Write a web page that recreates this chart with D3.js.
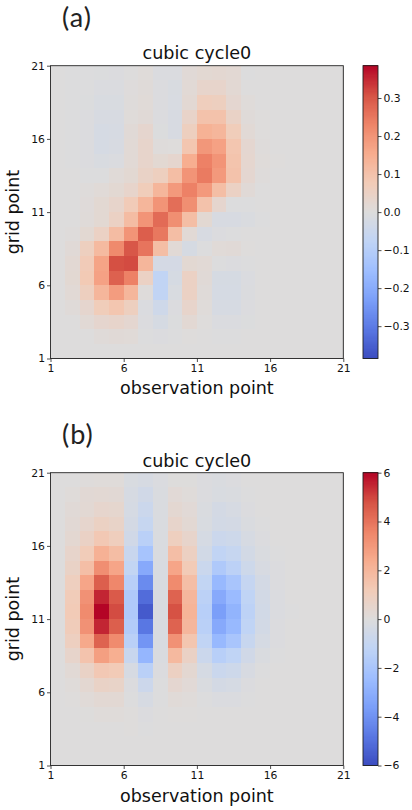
<!DOCTYPE html>
<html>
<head>
<meta charset="utf-8">
<script src="https://cdn.jsdelivr.net/npm/d3@7"></script>
<style>
html,body{margin:0;padding:0;background:#fff}
svg{display:block}
text{font-family:"DejaVu Sans",sans-serif;fill:#111}
</style>
</head>
<body>
<svg id="c" width="412" height="810"></svg>
<script>
const coolwarmStops = ["#3b4cc0","#5977e3","#7b9ff9","#9ebeff","#c0d4f5","#dddcdc","#f2cbb7","#f7ac8e","#ee8468","#d65244","#b40426"];
const axisTicks = [1,6,11,16,21];
const titleText = "cubic cycle0";
const xLabelText = "observation point";
const yLabelText = "grid point";
const panelATag = "(a)";
const panelBTag = "(b)";
const limitA = 0.385;
const limitB = 6;
const barTicksA = [-0.3,-0.2,-0.1,0,0.1,0.2,0.3];
const barTicksB = [-6,-4,-2,0,2,4,6];

// rows listed top to bottom (grid point 20-21 down to 1-2), columns left to right
const valuesA = [
[0,-.002,-.003,-.004,-.005,.001,.006,-.008,-.008,.012,.02,.022,.018,-.002,0,0,0,0,0,0],
[0,-.002,-.003,-.008,-.008,.003,.008,-.006,-.012,.015,.035,.035,.018,-.001,0,0,0,0,0,0],
[0,-.002,-.004,-.012,-.012,.004,.01,-.006,-.014,.018,.065,.06,.025,.006,0,0,0,0,0,0],
[0,-.002,-.005,-.015,-.015,.006,.012,-.006,-.016,.04,.1,.1,.045,.008,.002,0,0,0,0,0],
[0,-.002,-.006,-.022,-.018,.012,.03,-.004,-.015,.06,.14,.13,.07,.015,.002,0,0,0,0,0],
[0,-.002,-.006,-.022,-.016,.015,.035,.004,.002,.09,.195,.175,.09,.025,.004,0,0,0,0,0],
[0,-.002,-.005,-.012,-.008,.015,.035,.02,.03,.15,.235,.2,.095,.028,.006,.002,0,0,0,0],
[0,-.001,-.002,-.003,.01,.02,.045,.06,.11,.2,.245,.19,.1,.025,.004,0,0,0,0,0],
[0,0,.004,.01,.02,.035,.07,.13,.19,.235,.19,.11,.05,.012,0,0,0,0,0,0],
[0,-.001,.007,.02,.035,.075,.13,.2,.265,.21,.1,.03,-.003,-.002,-.001,-.001,-.001,-.001,-.001,-.001],
[0,-.001,.008,.02,.05,.115,.2,.27,.21,.11,.02,-.015,-.015,-.01,-.002,0,0,0,0,0],
[0,.005,.02,.05,.115,.2,.29,.25,.11,.015,-.015,-.005,-.002,.001,0,0,0,0,0,0],
[0,.012,.06,.12,.22,.3,.255,.11,.015,-.02,-.003,.01,.012,.002,0,0,0,0,0,0],
[0,.018,.075,.17,.31,.315,.13,-.025,-.025,.02,.015,-.003,-.005,-.003,0,0,0,0,0,0],
[0,.02,.08,.175,.285,.235,.05,-.075,-.02,.05,.012,-.02,-.02,-.008,-.001,0,0,0,0,0],
[0,.015,.06,.13,.185,.13,.005,-.075,-.012,.05,.008,-.022,-.022,-.007,-.001,0,0,0,0,0],
[0,.008,.03,.07,.09,.06,-.008,-.04,-.006,.035,.006,-.018,-.018,-.005,0,0,0,0,0,0],
[0,.001,.015,.03,.035,.025,-.006,-.02,-.004,.018,.002,-.008,-.008,-.004,0,0,0,0,0,0],
[0,0,0,.008,.012,.01,-.002,-.005,-.002,.002,0,-.002,-.002,-.001,0,0,0,0,0,0],
[0,0,0,0,0,0,0,0,0,0,0,0,0,0,0,0,0,0,0,0]
];
const valuesB = [
[0,-.02,.05,.1,.1,-.2,-.3,-.12,.02,.02,-.1,-.15,-.1,-.02,0,0,0,0,0,0],
[0,.1,.25,.3,.25,-.3,-.55,-.15,.2,.1,-.1,-.2,-.15,-.05,0,0,0,0,0,0],
[0,.18,.3,.5,.45,-.35,-.75,-.15,.35,.2,-.15,-.4,-.3,-.1,-.02,0,0,0,0,0],
[0,.25,.5,.8,.65,-.4,-.95,-.15,.55,.3,-.2,-.45,-.4,-.15,-.04,0,0,0,0,0],
[0,.35,.75,1.3,1,-.55,-1.4,-.15,.95,.55,-.35,-.75,-.65,-.3,-.08,0,0,0,0,0],
[0,.55,1.15,2.2,1.75,-.85,-2.1,-.15,1.7,.85,-.5,-1.15,-.95,-.45,-.15,-.05,0,0,0,0],
[0,.7,1.7,3.3,2.6,-1.1,-3.2,-.2,2.6,1.2,-.8,-1.8,-1.35,-.65,-.25,-.08,0,0,0,0],
[0,.95,2.6,4.5,3.5,-1.5,-4.2,-.2,3.4,1.7,-1.1,-2.6,-2,-1,-.4,-.1,0,0,0,0],
[0,1.15,3.2,5.5,4.6,-1.8,-5.1,-.2,4.4,2,-1.35,-3.2,-2.5,-1.2,-.45,-.12,-.02,0,0,0],
[0,1.2,3.4,6,4.9,-1.8,-5.6,-.2,4.8,2.1,-1.5,-3.6,-2.8,-1.3,-.5,-.12,-.03,0,0,0],
[0,1.1,3.2,5.5,4.5,-1.7,-4.8,-.2,4.4,2,-1.4,-3.2,-2.6,-1.2,-.45,-.1,-.02,0,0,0],
[0,.9,2.5,4.4,3.4,-1.4,-3.9,-.2,3.2,1.4,-1.15,-2.6,-2,-.9,-.35,-.08,0,0,0,0],
[0,.55,1.5,2.8,2.3,-.85,-2.7,-.15,1.9,.75,-.75,-1.5,-1.2,-.55,-.15,-.05,0,0,0,0],
[0,.22,.7,1.3,1.2,-.3,-1.4,-.1,.85,.35,-.35,-.8,-.65,-.25,-.03,0,0,0,0,0],
[0,.1,.35,.7,.65,-.1,-.7,-.05,.4,.2,-.15,-.4,-.35,-.1,-.01,0,0,0,0,0],
[0,.03,.15,.3,.3,-.03,-.3,-.03,.15,.1,-.03,-.12,-.12,-.05,0,0,0,0,0,0],
[0,0,.02,.1,.1,.03,-.1,0,.03,.03,0,0,0,0,0,0,0,0,0,0],
[0,0,0,0,.01,.03,-.05,-.02,.01,0,0,0,0,0,0,0,0,0,0,0],
[0,0,0,0,0,0,-.01,0,0,0,0,0,0,0,0,0,0,0,0,0],
[0,0,0,0,0,0,0,0,0,0,0,0,0,0,0,0,0,0,0,0]
];

const svg = d3.select("#c");
const frame = {left:50.5, right:343.3, size:292.8, barLeft:363, barRight:378};

function drawPanel(top, values, limit, barTicks, barFormat, tag, tagY, titleY, xLabelY){
  const bottom = top + frame.size;
  const x = d3.scaleLinear().domain([1,21]).range([frame.left, frame.right]);
  const y = d3.scaleLinear().domain([1,21]).range([bottom, top]);
  const colorT = d3.scaleLinear().domain(d3.range(11).map(i=>-limit+2*limit*i/10)).range(coolwarmStops).interpolate(d3.interpolateRgb).clamp(true);
  const g = svg.append("g");

  const rows = values.flatMap((row,r)=>row.map((v,c)=>({c,r,v})));
  g.append("g").attr("shape-rendering","crispEdges").selectAll("rect").data(rows).join("rect")
    .attr("x",d=>x(d.c+1)).attr("y",d=>y(21-d.r))
    .attr("width",d=>x(d.c+2)-x(d.c+1)+0.5).attr("height",d=>y(20-d.r)-y(21-d.r)+0.5)
    .attr("fill",d=>colorT(d.v));

  const styleAxis = a=>{
    a.selectAll("path").remove();
    a.selectAll("line").attr("stroke","#222").attr("stroke-width",0.8);
    a.selectAll("text").style("font-size","10.8px");
  };
  g.append("g").attr("transform",`translate(0,${bottom})`)
    .call(d3.axisBottom(x).tickValues(axisTicks).tickSize(3.5).tickPadding(2).tickFormat(d3.format("d"))).call(styleAxis);
  g.append("g").attr("transform",`translate(${frame.left},0)`)
    .call(d3.axisLeft(y).tickValues(axisTicks).tickSize(3.5).tickPadding(2).tickFormat(d3.format("d"))).call(styleAxis);
  g.append("rect").attr("x",frame.left).attr("y",top).attr("width",frame.size).attr("height",frame.size)
    .attr("fill","none").attr("stroke","#222").attr("stroke-width",0.9);

  // colour bar
  const barY = d3.scaleLinear().domain([-limit,limit]).range([bottom,top]);
  const steps = d3.range(0,256).map(i=>-limit+2*limit*i/255);
  g.append("g").attr("shape-rendering","crispEdges").selectAll("rect").data(steps).join("rect")
    .attr("x",frame.barLeft).attr("width",frame.barRight-frame.barLeft)
    .attr("y",d=>barY(d)-frame.size/255).attr("height",frame.size/255+0.6)
    .attr("fill",d=>colorT(d));
  g.append("g").attr("transform",`translate(${frame.barRight},0)`)
    .call(d3.axisRight(barY).tickValues(barTicks).tickSize(3.5).tickPadding(2).tickFormat(barFormat)).call(styleAxis);
  g.append("rect").attr("x",frame.barLeft).attr("y",top).attr("width",frame.barRight-frame.barLeft).attr("height",frame.size)
    .attr("fill","none").attr("stroke","#222").attr("stroke-width",0.9);

  const cx = (frame.left+frame.right)/2;
  g.append("text").attr("x",cx).attr("y",titleY).attr("text-anchor","middle").style("font-size","17.6px").text(titleText);
  g.append("text").attr("x",cx).attr("y",xLabelY).attr("text-anchor","middle").style("font-size","17.5px").text(xLabelText);
  g.append("text").attr("transform",`translate(19,${(top+bottom)/2}) rotate(-90)`).attr("text-anchor","middle").style("font-size","17.5px").text(yLabelText);
  g.append("text").attr("x",62).attr("y",tagY).style("font-family","Lato,sans-serif").style("font-size","27px").style("letter-spacing","1px").style("fill","#222").text(tag);
}

drawPanel(65.7, valuesA, limitA, barTicksA, d3.format(".1f"), panelATag, 27, 59.3, 394);
drawPanel(472.7, valuesB, limitB, barTicksB, d3.format("d"), panelBTag, 444, 467, 802);
</script>
</body>
</html>
